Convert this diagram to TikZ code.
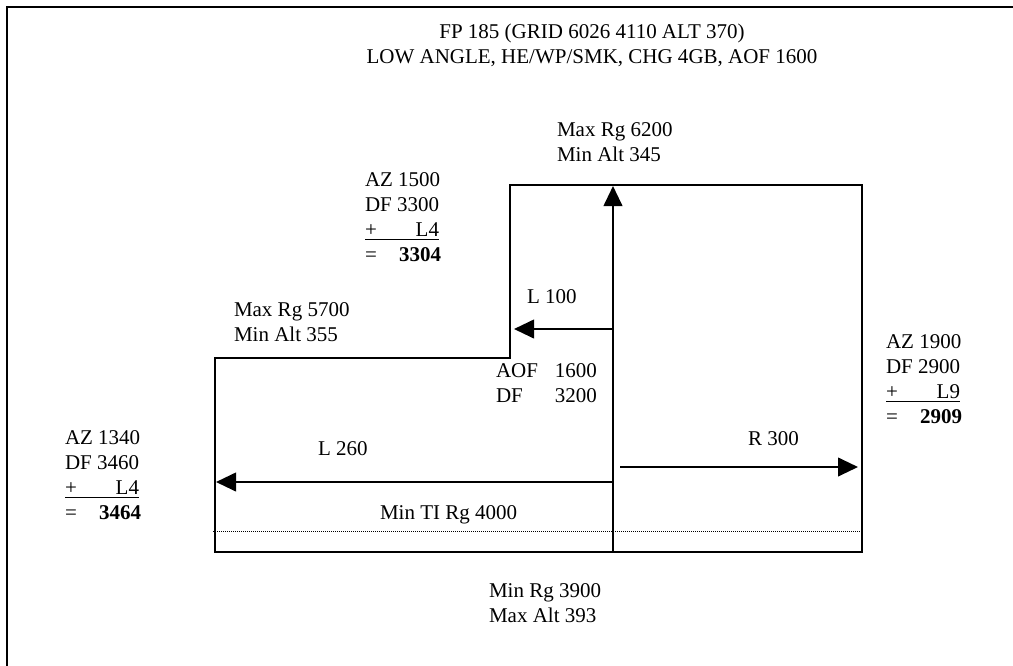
\documentclass[tikz,border=0pt]{standalone}
\usepackage{fontspec}
\setmainfont{Liberation Serif}
\usetikzlibrary{arrows.meta}
\newcommand{\plusline}[1]{\underline{\makebox[55.5pt][l]{+\hfill #1}}}
\newcommand{\eqline}[1]{\makebox[25.5pt][l]{=}\textbf{#1}}
\begin{document}
\begin{tikzpicture}[x=0.75pt,y=-0.75pt,
  txt/.style={inner sep=0pt,outer sep=0pt,anchor=north west,align=left,font=\fontsize{15.75}{18.75}\selectfont},
  outline/.style={line width=1.5pt,line join=miter},
  arr/.style={line width=1.5pt,-{Triangle[length=15pt,width=14pt]}},
  dotline/.style={line width=0.6pt,dash pattern=on 0.75pt off 0.75pt}]
\useasboundingbox (0,0) rectangle (1013,665);
\clip (0,0) rectangle (1013,665);
% outer frame
\draw[line width=1.5pt] (7,7) rectangle (1040,690);
% range outline
\draw[outline] (215,358) -- (215,552) -- (862,552) -- (862,185) -- (510,185) -- (510,358) -- cycle;
% dotted min TI range
\coordinate (dotL) at (213,531);
\coordinate (dotR) at (862,531);
\draw[dotline] (dotL) -- (dotR);
% arrows
\coordinate (base) at (613,552);
\coordinate (upTip) at (613,186);
\coordinate (l100s) at (613,329);
\coordinate (l100t) at (514,329);
\coordinate (l260s) at (613,482);
\coordinate (l260t) at (216,482);
\coordinate (r300s) at (620,467);
\coordinate (r300t) at (858,467);
\draw[arr] (base) -- (upTip);
\draw[arr] (l100s) -- (l100t);
\draw[arr] (l260s) -- (l260t);
\draw[arr] (r300s) -- (r300t);
% texts
\node[txt,anchor=north,align=center] (title) at (592,23.5) {FP 185 (GRID 6026 4110 ALT 370)\\LOW ANGLE, HE/WP/SMK, CHG 4GB, AOF 1600};
\node[txt] (maxrg62) at (557,123) {Max Rg 6200\\Min Alt 345};
\node[txt] (az15) at (365,173) {AZ 1500\\DF 3300\\\plusline{L4}\\\eqline{3304}};
\node[txt] (l100) at (527,290) {L 100};
\node[txt] (maxrg57) at (234,303) {Max Rg 5700\\Min Alt 355};
\node[txt] (aof) at (496,364) {\makebox[75.75pt][l]{AOF\hfill 1600}\\\makebox[75.75pt][l]{DF\hfill 3200}};
\node[txt] (az19) at (886,335) {AZ 1900\\DF 2900\\\plusline{L9}\\\eqline{2909}};
\node[txt] (az13) at (65,431) {AZ 1340\\DF 3460\\\plusline{L4}\\\eqline{3464}};
\node[txt] (l260) at (318,442) {L 260};
\node[txt] (r300) at (748,432) {R 300};
\node[txt] (minti) at (380,506) {Min TI Rg 4000};
\node[txt] (minrg) at (489,584) {Min Rg 3900\\Max Alt 393};
\end{tikzpicture}
\end{document}
